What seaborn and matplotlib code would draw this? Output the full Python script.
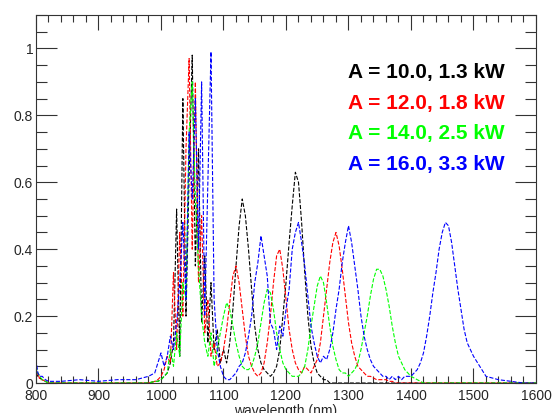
import numpy as np
import pandas as pd
import seaborn as sns
import matplotlib.pyplot as plt
from matplotlib.ticker import MultipleLocator, FuncFormatter

# sample wavelengths (nm)
wl_lead = [800, 803, 806, 810, 815, 820, 840, 870, 900, 930, 960, 980, 990]
wl_main = [995, 1000, 1005, 1010, 1015, 1020, 1025, 1030, 1035, 1040,
           1045, 1050, 1055, 1060, 1065, 1070, 1075, 1080, 1085, 1090,
           1095, 1100, 1105, 1110, 1115, 1120, 1125, 1130, 1135, 1140,
           1145, 1150, 1155, 1160, 1165, 1170, 1175, 1180, 1185, 1190,
           1195, 1200, 1205, 1210, 1215, 1220, 1225, 1230, 1235, 1240,
           1245, 1250, 1255, 1260, 1265, 1270, 1275, 1280, 1285, 1290,
           1295, 1300, 1305, 1310, 1315, 1320, 1325, 1330, 1335, 1340,
           1345, 1350, 1355, 1360, 1365, 1370, 1375, 1380, 1385, 1390,
           1395, 1400, 1405, 1410, 1415, 1420, 1425, 1430, 1435, 1440,
           1445, 1450, 1455, 1460, 1465, 1470, 1475, 1480, 1485, 1490,
           1495, 1500]
wl_trail = [1510, 1520, 1540, 1560, 1580, 1600]
wavelength = wl_lead + wl_main + wl_trail

labels = ['A = 10.0, 1.3 kW', 'A = 12.0, 1.8 kW', 'A = 14.0, 2.5 kW', 'A = 16.0, 3.3 kW']
colors = ['black', '#ff0000', '#00ff00', '#0000ff']

black = ([0.03, 0.02, 0.015, 0.01, 0.005, 0.0, 0.0, 0.0, 0.0, 0.0, 0.0, 0.0, 0.005] +
         [0.005, 0.01, 0.02, 0.03, 0.06, 0.12, 0.52, 0.08, 0.85, 0.2,
          0.62, 0.98, 0.35, 0.7, 0.18, 0.38, 0.12, 0.3, 0.1, 0.16,
          0.06, 0.1, 0.06, 0.12, 0.22, 0.35, 0.47, 0.55, 0.5, 0.4,
          0.28, 0.17, 0.1, 0.06, 0.04, 0.03, 0.02, 0.03, 0.05, 0.1,
          0.2, 0.3, 0.42, 0.53, 0.63, 0.6, 0.48, 0.33, 0.2, 0.11,
          0.06, 0.03, 0.02, 0.01, 0.01, 0.0, 0.0, 0.0, 0.0, 0.0,
          0.0, 0.0, 0.0, 0.0, 0.0, 0.0, 0.0, 0.0, 0.0, 0.0,
          0.0, 0.0, 0.0, 0.0, 0.0, 0.0, 0.0, 0.0, 0.0, 0.0,
          0.0, 0.0, 0.0, 0.0, 0.0, 0.0, 0.0, 0.0, 0.0, 0.0,
          0.0, 0.0, 0.0, 0.0, 0.0, 0.0, 0.0, 0.0, 0.0, 0.0,
          0.0, 0.0] +
         [0.0, 0.0, 0.0, 0.0, 0.0, 0.0])

red = ([0.02, 0.03, 0.01, 0.01, 0.005, 0.0, 0.0, 0.0, 0.0, 0.0, 0.0, 0.0, 0.005] +
       [0.01, 0.02, 0.04, 0.08, 0.06, 0.33, 0.1, 0.45, 0.2, 0.7,
        0.97, 0.4, 0.9, 0.3, 0.5, 0.15, 0.25, 0.08, 0.12, 0.05,
        0.06, 0.1, 0.16, 0.24, 0.32, 0.35, 0.3, 0.22, 0.14, 0.08,
        0.05, 0.03, 0.02, 0.03, 0.06, 0.12, 0.2, 0.3, 0.38, 0.4,
        0.34, 0.25, 0.16, 0.1, 0.06, 0.04, 0.03, 0.05, 0.04, 0.03,
        0.05, 0.07, 0.12, 0.2, 0.28, 0.36, 0.42, 0.45, 0.41, 0.34,
        0.26, 0.18, 0.12, 0.08, 0.05, 0.04, 0.03, 0.02, 0.02, 0.015,
        0.01, 0.01, 0.01, 0.01, 0.005, 0.005, 0.0, 0.0, 0.0, 0.0,
        0.0, 0.0, 0.0, 0.0, 0.0, 0.0, 0.0, 0.0, 0.0, 0.0,
        0.0, 0.0, 0.0, 0.0, 0.0, 0.0, 0.0, 0.0, 0.0, 0.0,
        0.0, 0.0] +
       [0.0, 0.0, 0.0, 0.0, 0.0, 0.0])

green = ([0.05, 0.03, 0.02, 0.01, 0.005, 0.0, 0.0, 0.0, 0.0, 0.0, 0.0, 0.0, 0.005] +
         [0.005, 0.01, 0.02, 0.03, 0.1, 0.05, 0.15, 0.08, 0.3, 0.25,
          0.75, 0.9, 0.55, 0.35, 0.2, 0.12, 0.08, 0.15, 0.05, 0.1,
          0.15, 0.2, 0.24, 0.22, 0.17, 0.12, 0.08, 0.05, 0.04, 0.04,
          0.05, 0.08, 0.12, 0.18, 0.24, 0.28, 0.27, 0.22, 0.15, 0.1,
          0.06, 0.04, 0.03, 0.02, 0.02, 0.02, 0.03, 0.05, 0.1, 0.17,
          0.23, 0.29, 0.32, 0.3, 0.24, 0.17, 0.11, 0.07, 0.04, 0.03,
          0.03, 0.02, 0.03, 0.04, 0.06, 0.1, 0.15, 0.2, 0.26, 0.31,
          0.34, 0.34, 0.32, 0.28, 0.23, 0.17, 0.12, 0.08, 0.06, 0.04,
          0.03, 0.02, 0.015, 0.01, 0.005, 0.0, 0.0, 0.0, 0.0, 0.0,
          0.0, 0.0, 0.0, 0.0, 0.0, 0.0, 0.0, 0.0, 0.0, 0.0,
          0.0, 0.0] +
         [0.0, 0.0, 0.0, 0.0, 0.0, 0.0])

blue = ([0.07, 0.03, 0.02, 0.02, 0.01, 0.005, 0.005, 0.01, 0.005, 0.01, 0.01, 0.02, 0.03] +
        [0.06, 0.09, 0.05, 0.08, 0.14, 0.1, 0.18, 0.3, 0.48, 0.25,
         0.75, 0.55, 0.85, 0.4, 0.9, 0.2, 0.6, 0.99, 0.25, 0.1,
         0.05, 0.02, 0.01, 0.01, 0.02, 0.03, 0.05, 0.06, 0.09, 0.14,
         0.2, 0.3, 0.36, 0.44, 0.38, 0.32, 0.18, 0.16, 0.1, 0.17,
         0.14, 0.22, 0.28, 0.4, 0.45, 0.48, 0.42, 0.35, 0.26, 0.17,
         0.12, 0.08, 0.06, 0.08, 0.07, 0.1, 0.15, 0.22, 0.28, 0.36,
         0.42, 0.47, 0.42, 0.35, 0.28, 0.2, 0.14, 0.1, 0.07, 0.05,
         0.04, 0.03, 0.02, 0.02, 0.01, 0.02, 0.01, 0.02, 0.01, 0.02,
         0.02, 0.02, 0.03, 0.04, 0.06, 0.09, 0.14, 0.2, 0.27, 0.33,
         0.4, 0.45, 0.48, 0.47, 0.42, 0.35, 0.28, 0.22, 0.16, 0.12,
         0.1, 0.08] +
        [0.05, 0.02, 0.01, 0.005, 0.0, 0.0])

series = [black, red, green, blue]
df = pd.concat([pd.DataFrame({'wavelength': wavelength, 'intensity': vals, 'run': lab})
                for lab, vals in zip(labels, series)], ignore_index=True)

sns.set_style('ticks')
plt.rcParams['font.family'] = ['Liberation Sans', 'DejaVu Sans']

fig = plt.figure(figsize=(5.52, 4.13), dpi=100)
ax = fig.add_axes([0.0652, 0.0726, 0.9058, 0.8911])

sns.lineplot(data=df, x='wavelength', y='intensity', hue='run', hue_order=labels,
             palette=colors, estimator=None, sort=False, legend=False,
             linewidth=0.8, linestyle='--', ax=ax)

ax.set_xlim(800, 1600)
ax.set_ylim(0, 1.1)
ax.xaxis.set_major_locator(MultipleLocator(100))
ax.xaxis.set_minor_locator(MultipleLocator(20))
ax.yaxis.set_major_locator(MultipleLocator(0.2))
ax.yaxis.set_minor_locator(MultipleLocator(0.05))
ax.yaxis.set_major_formatter(FuncFormatter(lambda v, p: f'{v:g}'))
ax.tick_params(axis='both', which='both', direction='in', top=True, right=True,
               labelsize=10, color='#333333', width=0.8)
ax.tick_params(axis='y', which='major', length=15, pad=2)
ax.tick_params(axis='y', which='minor', length=8)
ax.tick_params(axis='x', which='major', length=11, pad=4)
ax.tick_params(axis='x', which='minor', length=5)
for s in ax.spines.values():
    s.set_linewidth(0.8)
    s.set_color('#333333')

ax.set_xlabel('wavelength (nm)', fontsize=10, labelpad=1)
ax.set_ylabel('')

for lab, col, yy in zip(labels, colors, [0.928, 0.836, 0.746, 0.654]):
    ax.text(1299, yy, lab, color=col, fontsize=15, fontweight='bold', va='center', ha='left')

fig.savefig('out.png', dpi=100)
